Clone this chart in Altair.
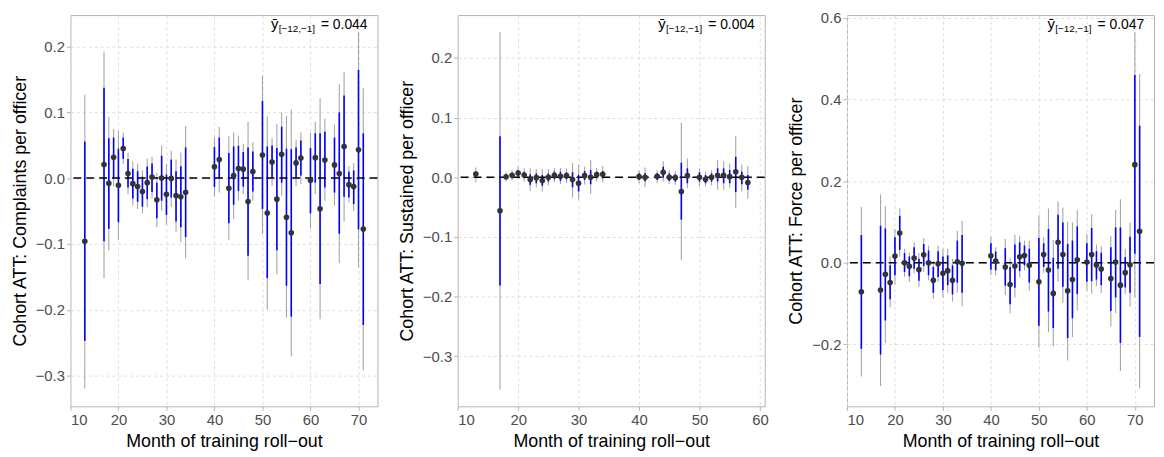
import altair as alt
import pandas as pd

# ---------------- Panel 1: Complaints per officer ----------------
months1 = [13, 17, 18, 19, 20, 21, 22, 23, 24, 25, 26, 27, 28, 29, 30, 31, 32, 33, 34,
           40, 41, 43, 44, 45, 46, 47, 48, 50, 51, 52, 53, 54, 55, 56, 57, 58,
           60, 61, 62, 63, 65, 66, 67, 68, 69, 70, 71]
est1 = [-0.096, 0.0205, -0.008, 0.0315, -0.011, 0.045, 0.007, -0.0085, -0.013, -0.0205,
        -0.007, 0.0015, -0.033, 0.0, -0.0245, -0.0005, -0.0265, -0.0285, -0.0215,
        0.017, 0.028, -0.0155, 0.004, 0.0145, 0.0135, -0.0355, 0.01, 0.035, -0.053,
        0.0245, -0.032, 0.036, -0.0595, -0.083, 0.023, 0.0305, -0.0035, 0.031, -0.0465,
        0.0275, 0.02, 0.007, 0.048, -0.01, -0.013, 0.043, -0.0775]
blo1 = [-0.247, -0.096, -0.077, 0.0005, -0.067, 0.029, -0.0145, -0.031, -0.036, -0.0435,
        -0.032, -0.021, -0.061, -0.0345, -0.056, -0.0295, -0.066, -0.0745, -0.0895,
        -0.0135, 0.0, -0.0685, -0.0405, -0.0195, -0.013, -0.118, -0.0205, -0.047, -0.152,
        0.0005, -0.1095, -0.007, -0.1635, -0.2105, 0.0005, 0.004, -0.0535, -0.007, -0.161,
        -0.0145, -0.022, -0.0845, -0.0285, -0.0295, -0.0395, -0.078, -0.223]
bhi1 = [0.0555, 0.137, 0.0605, 0.0615, 0.0445, 0.0615, 0.029, 0.014, 0.0105, 0.002,
        0.0175, 0.022, -0.007, 0.034, 0.0055, 0.028, 0.0105, 0.018, 0.0465,
        0.047, 0.0615, 0.038, 0.048, 0.049, 0.0395, 0.0465, 0.0405, 0.117, 0.048,
        0.0495, 0.0455, 0.078, 0.0445, 0.044, 0.0465, 0.057, 0.0455, 0.068, 0.068,
        0.0705, 0.0615, 0.0995, 0.1255, 0.0095, 0.0115, 0.164, 0.068]
glo1 = [-0.3195, -0.152, -0.1095, -0.013, -0.0935, 0.0215, -0.0245, -0.0415, -0.047, -0.0535,
        -0.0445, -0.031, -0.0745, -0.0495, -0.071, -0.0445, -0.0815, -0.097, -0.122,
        -0.028, -0.022, -0.0945, -0.062, -0.0345, -0.0245, -0.1555, -0.0345, -0.0855, -0.1995,
        -0.012, -0.146, -0.027, -0.212, -0.271, -0.012, -0.0085, -0.077, -0.0245, -0.2145,
        -0.0345, -0.042, -0.1295, -0.066, -0.037, -0.0495, -0.1355, -0.292]
ghi1 = [0.127, 0.192, 0.093, 0.075, 0.0715, 0.069, 0.039, 0.025, 0.022, 0.012,
        0.0295, 0.0325, 0.008, 0.0495, 0.0215, 0.042, 0.028, 0.039, 0.079,
        0.0615, 0.0775, 0.064, 0.0695, 0.0645, 0.052, 0.0855, 0.0545, 0.1555, 0.094,
        0.0605, 0.082, 0.099, 0.0945, 0.1045, 0.058, 0.0695, 0.069, 0.0855, 0.1215,
        0.0905, 0.0815, 0.143, 0.1615, 0.018, 0.023, 0.222, 0.1365]

# ---------------- Panel 2: Sustained per officer ----------------
months2 = [13, 17, 18, 19, 20, 21, 22, 23, 24, 25, 26, 27, 28, 29, 30, 31, 32, 33, 34,
           40, 41, 43, 44, 45, 46, 47, 48, 50, 51, 52, 53, 54, 55, 56, 57, 58]
est2 = [0.0055, -0.056, 0.001, 0.0033, 0.0072, 0.0039, -0.0039, -0.0006, -0.0055, 0.0,
        0.0033, 0.0017, 0.0028, -0.0039, -0.01, 0.0028, 0.0, 0.0044, 0.005,
        0.0011, 0.0, 0.0017, 0.0083, 0.0, -0.0006, -0.0238, 0.0028, 0.0, -0.0033,
        0.0, 0.0033, 0.0033, 0.0011, 0.0094, 0.0, -0.0089]
blo2 = [-0.0006, -0.1815, -0.0033, -0.0017, 0.0011, -0.0017, -0.0127, -0.01, -0.0144, -0.0072,
        -0.0033, -0.0061, -0.0033, -0.0166, -0.0238, -0.0044, -0.0116, -0.0017, -0.0017,
        -0.0044, -0.0072, -0.0044, -0.0006, -0.0061, -0.0072, -0.071, -0.01, -0.0072, -0.01,
        -0.0072, -0.0072, -0.01, -0.01, -0.0249, -0.0116, -0.021]
bhi2 = [0.0094, 0.069, 0.005, 0.0078, 0.0122, 0.0094, 0.005, 0.0066, 0.0039, 0.0066,
        0.0094, 0.0094, 0.0083, 0.0083, 0.0039, 0.0105, 0.012, 0.0094, 0.0105,
        0.0066, 0.0066, 0.0066, 0.0177, 0.0066, 0.005, 0.0244, 0.015, 0.0083, 0.0039,
        0.0066, 0.015, 0.015, 0.0122, 0.0343, 0.0094, 0.0039]
glo2 = [-0.0083, -0.356, -0.0072, -0.0055, -0.0033, -0.0072, -0.0227, -0.0172, -0.0238, -0.0138,
        -0.0089, -0.0116, -0.01, -0.0338, -0.0377, -0.0127, -0.0282, -0.0072, -0.0089,
        -0.01, -0.0166, -0.01, -0.0072, -0.0116, -0.0127, -0.139, -0.0183, -0.0155, -0.0155,
        -0.0138, -0.021, -0.021, -0.018, -0.0515, -0.0238, -0.036]
ghi2 = [0.0166, 0.243, 0.0094, 0.012, 0.018, 0.015, 0.015, 0.0138, 0.0133, 0.0138,
        0.015, 0.016, 0.015, 0.0244, 0.0205, 0.0177, 0.0288, 0.016, 0.0188,
        0.012, 0.0166, 0.012, 0.027, 0.012, 0.0105, 0.0914, 0.0316, 0.015, 0.0094,
        0.012, 0.0288, 0.027, 0.023, 0.0692, 0.0216, 0.0194]

# ---------------- Panel 3: Force per officer ----------------
months3 = [13, 17, 18, 19, 20, 21, 22, 23, 24, 25, 26, 27, 28, 29, 30, 31, 32, 33, 34,
           40, 41, 43, 44, 45, 46, 47, 48, 50, 51, 52, 53, 54, 55, 56, 57, 58,
           60, 61, 62, 63, 65, 66, 67, 68, 69, 70, 71]
est3 = [-0.0712, -0.067, -0.0283, -0.0485, 0.0162, 0.0728, 0.0, -0.0089, 0.0113, -0.017,
        0.0194, 0.0, -0.0429, -0.0024, -0.0259, -0.0194, -0.0429, 0.0024, -0.0016,
        0.017, 0.004, -0.0105, -0.0534, -0.0081, 0.0146, 0.0178, -0.0065, -0.0469, 0.0202,
        -0.0178, -0.0752, 0.0502, 0.0202, -0.0688, -0.0413, 0.0073, 0.0016, 0.0202, -0.0057,
        -0.0154, -0.0388, 0.0016, -0.055, -0.0243, -0.0049, 0.2403, 0.0769]
blo3 = [-0.211, -0.225, -0.1416, -0.0898, -0.0307, 0.0316, -0.0227, -0.0332, -0.0146, -0.0445,
        -0.008, -0.0307, -0.0736, -0.0348, -0.067, -0.055, -0.0777, -0.049, -0.0736,
        -0.017, -0.0186, -0.0566, -0.102, -0.0615, -0.0202, -0.0065, -0.0485, -0.1545, -0.0105,
        -0.1197, -0.16, -0.0146, -0.059, -0.1845, -0.1359, -0.0769, -0.0469, -0.0453, -0.0413,
        -0.055, -0.1181, -0.085, -0.1966, -0.0607, -0.0736, 0.0218, -0.182]
bhi3 = [0.068, 0.0906, 0.084, -0.0065, 0.0623, 0.1149, 0.0235, 0.0154, 0.038, 0.0097,
        0.046, 0.03, -0.0105, 0.0283, 0.0154, 0.0178, -0.0065, 0.054, 0.068,
        0.0477, 0.0275, 0.0356, -0.0105, 0.0445, 0.05, 0.042, 0.034, 0.0607, 0.0477,
        0.0825, 0.0121, 0.1173, 0.0987, 0.0461, 0.0542, 0.089, 0.0477, 0.085, 0.0283,
        0.0243, 0.038, 0.0866, 0.0866, 0.0138, 0.0639, 0.4604, 0.3358]
glo3 = [-0.279, -0.302, -0.1966, -0.109, -0.0526, 0.0154, -0.0348, -0.047, -0.0267, -0.059,
        -0.0227, -0.043, -0.089, -0.047, -0.085, -0.075, -0.0955, -0.0736, -0.1076,
        -0.0307, -0.0307, -0.079, -0.124, -0.085, -0.0364, -0.0186, -0.0688, -0.2087, -0.025,
        -0.17, -0.2047, -0.0469, -0.0979, -0.2395, -0.182, -0.1173, -0.0688, -0.0752, -0.0574,
        -0.0736, -0.1561, -0.1238, -0.2654, -0.0769, -0.1076, -0.085, -0.3083]
ghi3 = [0.1367, 0.1675, 0.139, 0.0154, 0.0825, 0.1335, 0.034, 0.0259, 0.05, 0.0235,
        0.0607, 0.042, 0.004, 0.042, 0.034, 0.034, 0.0097, 0.0785, 0.1028,
        0.0639, 0.038, 0.058, 0.012, 0.0688, 0.0663, 0.054, 0.054, 0.1165, 0.0623,
        0.1327, 0.0558, 0.1497, 0.1351, 0.1011, 0.0987, 0.1294, 0.0704, 0.1189, 0.0445,
        0.0405, 0.0663, 0.1294, 0.1553, 0.034, 0.0987, 0.5655, 0.4628]

y_titles = ["Cohort ATT: Complaints per officer",
            "Cohort ATT: Sustained per officer",
            "Cohort ATT: Force per officer"]
pre_means = ["0.044", "0.004", "0.047"]
x_title = "Month of training roll\u2212out"

FONT = "Liberation Sans"
W, H = 310, 395


def panel(months, est, blo, bhi, glo, ghi, xdom, ydom, xticks, yticks, ytitle, mean_txt):
    df = pd.DataFrame({"m": months, "est": est, "blo": blo, "bhi": bhi,
                       "glo": glo, "ghi": ghi})
    base = alt.Chart(df)
    xs = alt.Scale(domain=xdom, nice=False, zero=False)
    ys = alt.Scale(domain=ydom, nice=False, zero=False)
    xenc = alt.X("m:Q", scale=xs,
                 axis=alt.Axis(values=xticks, format="d", title=x_title))
    yenc = alt.Y("glo:Q", scale=ys,
                 axis=alt.Axis(values=yticks, format=".1f", title=ytitle))
    gray = base.mark_rule(color="#a6a6a6", strokeWidth=1.1).encode(
        x=xenc, y=yenc, y2="ghi:Q")
    blue = base.mark_rule(color="#0000ff", strokeWidth=1.6).encode(
        x="m:Q", y="blo:Q", y2="bhi:Q")
    zero = alt.Chart(pd.DataFrame({"z": [0.0]})).mark_rule(
        color="black", strokeDash=[8, 5], strokeWidth=1.5).encode(y="z:Q")
    pts = base.mark_circle(size=32, color="#333333", opacity=1).encode(
        x="m:Q", y="est:Q")
    t_main = alt.Chart(pd.DataFrame({"t": ["= " + mean_txt]})).mark_text(
        align="right", baseline="alphabetic", fontSize=14, font=FONT, color="black"
    ).encode(x=alt.value(W - 10), y=alt.value(14), text="t:N")
    t_sub = alt.Chart(pd.DataFrame({"t": ["[\u221212,\u22121]"]})).mark_text(
        align="right", baseline="alphabetic", fontSize=10, font=FONT, color="black"
    ).encode(x=alt.value(W - 63), y=alt.value(17), text="t:N")
    t_y = alt.Chart(pd.DataFrame({"t": ["\u0233"]})).mark_text(
        align="right", baseline="alphabetic", fontSize=15, font=FONT, color="black"
    ).encode(x=alt.value(W - 100), y=alt.value(14), text="t:N")
    return alt.layer(gray, blue, zero, pts, t_main, t_sub, t_y).properties(
        width=W, height=H)


p1 = panel(months1, est1, blo1, bhi1, glo1, ghi1, [10, 73.95], [-0.3466, 0.2475],
           [10, 20, 30, 40, 50, 60, 70], [-0.3, -0.2, -0.1, 0.0, 0.1, 0.2],
           y_titles[0], pre_means[0])
p2 = panel(months2, est2, blo2, bhi2, glo2, ghi2, [10, 60.8], [-0.384, 0.272],
           [10, 20, 30, 40, 50, 60], [-0.3, -0.2, -0.1, 0.0, 0.1, 0.2],
           y_titles[1], pre_means[1])
p3 = panel(months3, est3, blo3, bhi3, glo3, ghi3, [10, 74.0], [-0.352, 0.607],
           [10, 20, 30, 40, 50, 60, 70], [-0.2, 0.0, 0.2, 0.4, 0.6],
           y_titles[2], pre_means[2])

chart = alt.hconcat(p1, p2, p3, spacing=18).properties(
    padding={"left": 2, "top": 0, "right": 0, "bottom": 0}
).configure_view(
    stroke="#b3b3b3", strokeWidth=1
).configure_axis(
    domain=False,
    grid=True, gridColor="#dedede", gridDash=[3, 3], gridWidth=1,
    tickColor="#b3b3b3", tickSize=4, tickWidth=1,
    labelFont=FONT, labelFontSize=15, labelColor="#4d4d4d", labelPadding=2,
    titleFont=FONT, titleFontSize=18, titleColor="black", titleFontWeight="normal",
    titlePadding=6
)

chart.save("out.html", embed_options={"renderer": "svg", "actions": False})
